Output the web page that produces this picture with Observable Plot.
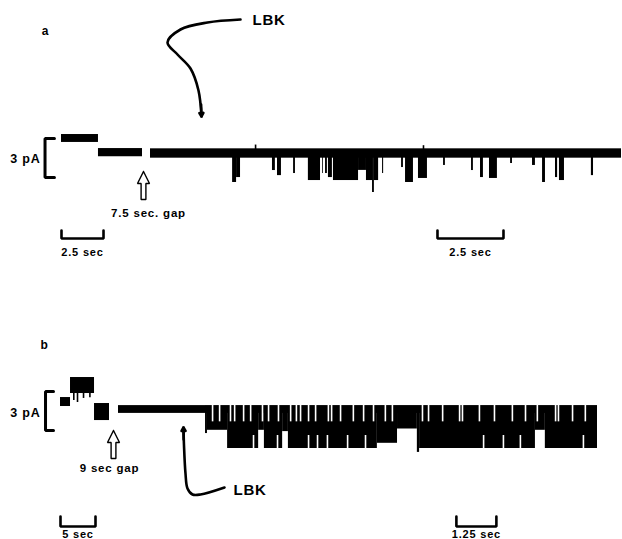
<!DOCTYPE html>
<html><head><meta charset="utf-8">
<script src="https://cdn.jsdelivr.net/npm/d3@7"></script>
<script src="https://cdn.jsdelivr.net/npm/@observablehq/plot@0.6"></script>
<style>
html,body{margin:0;padding:0;background:#fff;}
#fig{position:relative;width:622px;height:539px;overflow:hidden;}
.panel{position:absolute;left:0;width:622px;}
.panel svg{position:absolute;left:0;top:0;}
</style></head><body><div id="fig"></div>
<script>
// ---------------- DATA (time in s, current in pA; 0 = closed level) ----------------
const panelNames = ["a", "b"];
const gapLabels = ["7.5 sec. gap", "9 sec gap"];
const drugLabel = "LBK";
const ampLabel = "3 pA";
const ampBar = 3; // pA
const timeBarLabels = [["2.5 sec", "2.5 sec"], ["5 sec", "1.25 sec"]];
const timeBars = [[2.5, 2.5], [5, 1.25]]; // s

// panel a, before the gap
const aPreStart = [0, 2.2];
const aPreEnd = [2.2, 4.82];
const aPreHigh = [1.46, 0.38];
const aPreLow = [0.85, -0.25];
// panel a, after the gap: closed baseline + openings (downward)
const aPostDuration = 17.84;
const aOpenStart = [3.11, 3.26, 4.62, 4.81, 5.42, 5.98, 6.52, 6.63, 6.74, 6.93, 7.88, 8.18, 8.41, 8.48, 8.79, 9.51, 9.66, 10.15, 11.10, 12.16, 12.50, 12.84, 13.64, 14.47, 14.85, 15.34, 15.49, 16.70];
const aOpenEnd   = [3.26, 3.41, 4.73, 4.96, 5.49, 6.44, 6.55, 6.70, 6.89, 7.88, 8.18, 8.41, 8.48, 8.64, 8.83, 9.58, 9.96, 10.49, 11.17, 12.23, 12.61, 13.14, 13.71, 14.58, 14.96, 15.42, 15.68, 16.78];
const aOpenLevel = [-2.23, -1.85, -1.31, -1.70, -1.54, -2.08, -1.54, -1.54, -1.85, -2.08, -1.30, -2.08, -3.00, -2.08, -1.54, -1.08, -2.23, -1.92, -0.92, -1.31, -1.85, -1.92, -0.77, -0.92, -2.23, -1.85, -2.08, -1.70];
const aSpikeT = [3.98, 10.34];
const aSpikeHi = [0.65, 0.6];

// panel b, before the gap
const bPreStart = [0, 1.43, 4.86];
const bPreEnd = [1.43, 4.86, 7.0];
const bPreHigh = [0.92, 2.46, 0.46];
const bPreLow = [0.23, 1.23, -0.85];
const bPreSpikeT = [1.9, 2.43, 3.29, 4.2];
const bPreSpikeLo = [0.7, 0.54, 0.85, 0.9];
// panel b, after the gap
const bPostDuration = 14.97;
const bBurstStart = [2.72, 2.78, 3.41, 4.38, 4.56, 5.13, 5.31, 8.09, 8.72, 9.34, 9.41, 13.03, 13.34];
const bBurstEnd   = [2.78, 3.41, 4.38, 4.56, 5.13, 5.31, 8.09, 8.72, 9.34, 9.41, 13.03, 13.34, 14.97];
const bBurstLo    = [-1.85, -1.6, -3.0, -1.6, -3.0, -1.7, -3.0, -2.6, -1.5, -3.3, -3.0, -1.6, -3.0];
// sojourns at the open level (slits from the top) and at the closed level (slits from the bottom)
const bTopGapT = [2.94, 3.16, 3.50, 3.63, 3.91, 4.13, 4.50, 4.69, 5.0, 5.38, 5.56, 5.69, 5.94, 6.16, 6.56, 6.66, 6.94, 7.34, 7.66, 7.97, 8.34, 8.56, 9.5, 9.69, 10.13, 10.66, 10.75, 11.28, 11.75, 12.31, 12.72, 13.09, 13.66, 13.75, 14.19, 14.59];
const bBottomGapT = [4.22, 4.97, 5.94, 6.22, 6.53, 7.16, 7.72, 11.41, 12.03, 12.56, 14.53];

// ---------------- LAYOUT ----------------
const W = 622, PX = 13; // px per pA
const FONT = "'Liberation Sans', Arial, Helvetica, sans-serif";
const INK = "#000";
const panels = [
  {top: 0, h: 270, y0: 153,
   pre: {ml: 61, mr: W - 142, dom: [0, 4.82]},
   post: {ml: 150, mr: W - 621, dom: [0, aPostDuration]},
   bracket: {x0: -0.98, x1: -0.42, top: 1.15},
   barY: [-5.92, -6.54], barTextY: -7.62, barStart: [0, 10.87]},
  {top: 270, h: 269, y0: 139,
   pre: {ml: 60, mr: W - 109, dom: [0, 7.0]},
   post: {ml: 118, mr: W - 597, dom: [0, bPostDuration]},
   bracket: {x0: -2.14, x1: -1.0, top: 1.38},
   barY: [-8.23, -9.0], barTextY: -9.65, barStart: [0, 10.56]}
];
const STYLE = {background: "transparent", overflow: "visible", fontFamily: FONT, letterSpacing: "0.8px"};

function layer(p, box, marks) {
  return Plot.plot({
    width: W, height: p.h,
    marginLeft: box.ml, marginRight: box.mr, marginTop: 0, marginBottom: 0,
    x: {domain: box.dom, axis: null},
    y: {domain: [(p.y0 - p.h) / PX, p.y0 / PX], axis: null},
    style: STYLE,
    marks
  });
}
function pixelLayer(p, marks) {
  return Plot.plot({
    width: W, height: p.h, margin: 0,
    x: {domain: [0, W], range: [0, W], axis: null},
    y: {domain: [0, p.h], range: [0, p.h], axis: null},
    style: STYLE,
    marks
  });
}
const txt = (o) => ({fontFamily: FONT, fontWeight: "bold", fill: INK, ...o});
function scaleBarMarks(p, i, k) {
  const t0 = p.barStart[k], t1 = t0 + timeBars[i][k];
  const pts = [{t: t0, v: p.barY[0]}, {t: t0, v: p.barY[1]}, {t: t1, v: p.barY[1]}, {t: t1, v: p.barY[0]}];
  return [
    Plot.line(pts, {x: "t", y: "v", stroke: INK, strokeWidth: 2.6, strokeLinejoin: "miter"}),
    Plot.text([timeBarLabels[i][k]], txt({x: () => (t0 + t1) / 2, y: () => p.barTextY, text: d => d, fontSize: 11}))
  ];
}
function bracketMarks(p) {
  const b = p.bracket;
  const pts = [{t: b.x1, v: b.top}, {t: b.x0, v: b.top}, {t: b.x0, v: b.top - ampBar}, {t: b.x1, v: b.top - ampBar}];
  return [Plot.line(pts, {x: "t", y: "v", stroke: INK, strokeWidth: 3, strokeLinejoin: "miter"})];
}
function hollowArrow(tipX, tipY) {
  const shape = [[0,0],[6,12],[2.4,12],[2.4,28],[-2.4,28],[-2.4,12],[-6,12],[0,0]]
    .map(([dx, dy]) => ({x: tipX + dx, y: tipY + dy}));
  return Plot.line(shape, {x: "x", y: "y", fill: "white", stroke: INK, strokeWidth: 1.4, strokeLinejoin: "miter"});
}
function curvedArrow(pts, headFrom) {
  const tip = pts[pts.length - 1];
  return [
    Plot.line(pts, {x: "x", y: "y", curve: "catmull-rom", stroke: INK, strokeWidth: 2.6}),
    Plot.arrow([{x1: headFrom.x, y1: headFrom.y, x2: tip.x, y2: tip.y}], {x1: "x1", y1: "y1", x2: "x2", y2: "y2", stroke: INK, strokeWidth: 2.6, headLength: 10})
  ];
}

const fig = document.getElementById("fig");
panels.forEach((p, i) => {
  const div = document.createElement("div");
  div.className = "panel";
  div.style.top = p.top + "px";
  div.style.height = p.h + "px";
  fig.appendChild(div);

  let preMarks, postMarks;
  if (i === 0) {
    const pre = aPreStart.map((s, j) => ({s, e: aPreEnd[j], hi: aPreHigh[j], lo: aPreLow[j]}));
    preMarks = [Plot.rect(pre, {x1: "s", x2: "e", y1: "lo", y2: "hi", fill: INK})];
    const opens = aOpenStart.map((s, j) => ({s, e: aOpenEnd[j], lo: aOpenLevel[j]}));
    const spikes = aSpikeT.map((t, j) => ({t, hi: aSpikeHi[j]}));
    postMarks = [
      Plot.rect([{s: 0, e: aPostDuration}], {x1: "s", x2: "e", y1: () => -0.36, y2: () => 0.36, fill: INK}),
      Plot.rect(opens, {x1: "s", x2: "e", y1: "lo", y2: () => 0, fill: INK}),
      Plot.ruleX(spikes, {x: "t", y1: () => 0, y2: "hi", stroke: INK, strokeWidth: 1.6})
    ];
  } else {
    const pre = bPreStart.map((s, j) => ({s, e: bPreEnd[j], hi: bPreHigh[j], lo: bPreLow[j]}));
    const spikes = bPreSpikeT.map((t, j) => ({t, lo: bPreSpikeLo[j]}));
    preMarks = [
      Plot.rect(pre, {x1: "s", x2: "e", y1: "lo", y2: "hi", fill: INK}),
      Plot.ruleX(spikes, {x: "t", y1: () => 1.5, y2: "lo", stroke: INK, strokeWidth: 1.6})
    ];
    const bursts = bBurstStart.map((s, j) => ({s, e: bBurstEnd[j], lo: bBurstLo[j]}));
    postMarks = [
      Plot.rect([{s: 0, e: bPostDuration}], {x1: "s", x2: "e", y1: () => -0.3, y2: () => 0.3, fill: INK}),
      Plot.rect(bursts, {x1: "s", x2: "e", y1: "lo", y2: () => 0.25, fill: INK}),
      Plot.ruleX(bTopGapT, {x: d => d, y1: () => 0.4, y2: () => -0.95, stroke: "white", strokeWidth: 1.6}),
      Plot.ruleX(bBottomGapT, {x: d => d, y1: () => -3.1, y2: () => -2.0, stroke: "white", strokeWidth: 1.6})
    ];
  }
  div.appendChild(layer(p, p.pre, [...preMarks, ...bracketMarks(p), ...scaleBarMarks(p, i, 0)]));
  div.appendChild(layer(p, p.post, [...postMarks, ...scaleBarMarks(p, i, 1)]));

  let ann;
  if (i === 0) {
    ann = [
      Plot.text([panelNames[0]], txt({x: () => 45, y: () => 31, text: d => d, fontSize: 12})),
      Plot.text([drugLabel], txt({x: () => 252, y: () => 20, text: d => d, fontSize: 15, textAnchor: "start"})),
      ...curvedArrow([{x: 240, y: 19}, {x: 207, y: 22}, {x: 180, y: 29}, {x: 167, y: 42}, {x: 177, y: 54}, {x: 190, y: 68}, {x: 198, y: 90}, {x: 201, y: 116}], {x: 200.6, y: 104}),
      Plot.text([ampLabel], txt({x: () => 40, y: () => 158, text: d => d, fontSize: 12.5, textAnchor: "end"})),
      hollowArrow(143, 171),
      Plot.text([gapLabels[0]], txt({x: () => 148, y: () => 213, text: d => d, fontSize: 11.5}))
    ];
  } else {
    ann = [
      Plot.text([panelNames[1]], txt({x: () => 44, y: () => 75, text: d => d, fontSize: 12})),
      Plot.text([ampLabel], txt({x: () => 40, y: () => 142, text: d => d, fontSize: 12.5, textAnchor: "end"})),
      hollowArrow(113, 160),
      Plot.text([gapLabels[1]], txt({x: () => 109, y: () => 198, text: d => d, fontSize: 11.5})),
      ...curvedArrow([{x: 224, y: 217}, {x: 200, y: 224}, {x: 192, y: 224}, {x: 187, y: 218}, {x: 185, y: 203}, {x: 183.5, y: 175}, {x: 183, y: 157}], {x: 183.2, y: 169}),
      Plot.text([drugLabel], txt({x: () => 233, y: () => 220, text: d => d, fontSize: 15, textAnchor: "start"}))
    ];
  }
  div.appendChild(pixelLayer(p, ann));
});
</script></body></html>
